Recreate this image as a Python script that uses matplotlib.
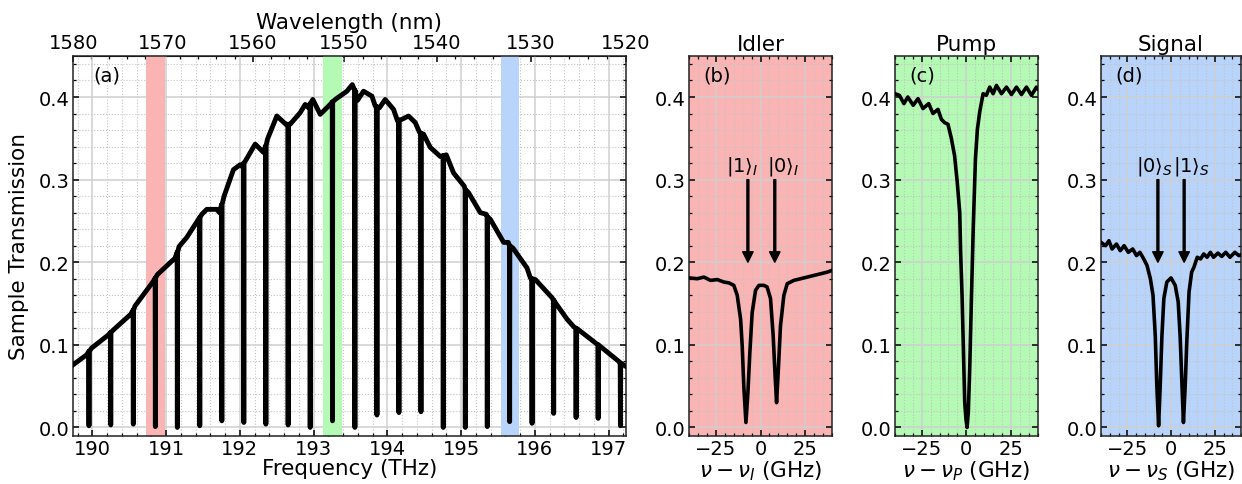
import numpy as np
import matplotlib
matplotlib.use("Agg")
import matplotlib.pyplot as plt
from matplotlib.ticker import MultipleLocator

C_NM_THZ = 299792.458

# ---------------- Panel (a): broadband transmission ----------------
env_freq = [189.742, 189.924, 189.990, 190.217, 190.285, 190.521, 190.579, 190.828,
            190.882, 191.122, 191.176, 191.281, 191.425, 191.484, 191.552, 191.688,
            191.723, 191.787, 191.913, 192.004, 192.027, 192.085, 192.208, 192.320,
            192.375, 192.502, 192.624, 192.682, 192.818, 192.886, 192.931, 192.990,
            193.090, 193.225, 193.293, 193.452, 193.525, 193.596, 193.677, 193.791,
            193.836, 193.894, 193.971, 194.084, 194.138, 194.198, 194.288, 194.379,
            194.437, 194.491, 194.582, 194.718, 194.799, 194.898, 195.043, 195.102,
            195.261, 195.342, 195.396, 195.577, 195.640, 195.704, 195.894, 195.939,
            196.007, 196.233, 196.278, 196.437, 196.526, 196.581, 196.798, 197.137,
            197.232]
env_trans = [0.076, 0.088, 0.096, 0.112, 0.118, 0.137, 0.147, 0.177,
             0.185, 0.205, 0.219, 0.230, 0.250, 0.258, 0.264, 0.264,
             0.260, 0.280, 0.312, 0.318, 0.316, 0.324, 0.343, 0.333,
             0.349, 0.377, 0.367, 0.367, 0.381, 0.391, 0.387, 0.397,
             0.379, 0.391, 0.397, 0.407, 0.415, 0.396, 0.407, 0.401,
             0.389, 0.387, 0.397, 0.385, 0.371, 0.373, 0.377, 0.369,
             0.357, 0.355, 0.339, 0.328, 0.330, 0.308, 0.292, 0.284,
             0.260, 0.258, 0.252, 0.224, 0.224, 0.217, 0.193, 0.181,
             0.179, 0.157, 0.151, 0.131, 0.122, 0.119, 0.104, 0.080,
             0.074]

dip_freq = [189.955, 190.250, 190.556, 190.855, 191.153, 191.457, 191.756, 192.054,
            192.353, 192.655, 192.954, 193.256, 193.560, 193.859, 194.157, 194.456,
            194.758, 195.057, 195.355, 195.658, 195.962, 196.255, 196.559, 196.858,
            197.160]
dip_top = [0.092, 0.115, 0.142, 0.181, 0.212, 0.254, 0.270, 0.320,
           0.341, 0.367, 0.392, 0.394, 0.408, 0.388, 0.372, 0.356,
           0.329, 0.288, 0.255, 0.220, 0.180, 0.154, 0.120, 0.100,
           0.078]
dip_min = [0.002, 0.003, 0.004, 0.001, 0.000, 0.002, 0.008, 0.006,
           0.004, 0.003, 0.000, 0.008, 0.000, 0.015, 0.018, 0.019,
           0.000, 0.000, 0.001, 0.007, 0.005, 0.017, 0.012, 0.011,
           0.002]

band_idler = (190.731, 190.991)
band_pump = (193.134, 193.388)
band_signal = (195.536, 195.790)

wl_ticks = [1580, 1570, 1560, 1550, 1540, 1530, 1520]
freq_ticks = [190, 191, 192, 193, 194, 195, 196, 197]

# ---------------- Panels (b)-(d): zoom on resonances ----------------
idler_det = [-40.0, -35.6, -31.8, -28.1, -24.3, -20.6, -17.8, -15.0, -13.1, -11.2,
             -10.3, -9.4, -8.2, -7.1, -6.0, -4.7, -2.8, -0.9, 1.9, 3.7, 5.6, 7.1,
             8.1, 9.0, 9.9, 11.2, 13.1, 15.0, 18.7, 22.5, 26.2, 30.0, 33.7, 37.5, 40.0]
idler_trans = [0.181, 0.180, 0.182, 0.178, 0.179, 0.176, 0.175, 0.172, 0.160, 0.131,
               0.099, 0.050, 0.006, 0.042, 0.091, 0.139, 0.166, 0.172, 0.172, 0.170,
               0.156, 0.111, 0.066, 0.030, 0.066, 0.123, 0.160, 0.174, 0.178, 0.180,
               0.182, 0.184, 0.186, 0.188, 0.190]

pump_det = [-40.0, -37.5, -35.0, -32.8, -29.8, -27.1, -24.3, -21.1, -18.7, -15.9,
            -14.0, -12.2, -10.3, -8.4, -6.6, -5.1, -3.7, -3.2, -2.4, -1.7, -0.9,
            -0.2, 0.4, 1.1, 1.9, 2.8, 3.9, 5.1, 6.2, 7.5, 9.4, 11.2, 13.1, 15.0,
            16.9, 19.7, 22.5, 25.3, 28.1, 30.9, 33.7, 36.5, 39.3, 40.0]
pump_trans = [0.404, 0.402, 0.392, 0.400, 0.390, 0.398, 0.386, 0.392, 0.380, 0.385,
              0.373, 0.369, 0.367, 0.350, 0.329, 0.297, 0.260, 0.212, 0.160, 0.099,
              0.030, 0.010, 0.000, 0.018, 0.071, 0.152, 0.244, 0.325, 0.361, 0.382,
              0.404, 0.402, 0.412, 0.404, 0.414, 0.404, 0.412, 0.403, 0.412, 0.403,
              0.412, 0.402, 0.412, 0.410]

signal_det = [-40.0, -37.4, -35.5, -33.7, -31.2, -29.0, -26.8, -24.4, -21.9, -19.7,
              -17.8, -15.6, -13.7, -11.8, -10.3, -9.0, -8.1, -7.1, -6.2, -5.2, -4.1,
              -2.4, 0.0, 2.4, 4.1, 5.2, 6.2, 7.1, 8.1, 9.0, 10.3, 11.8, 13.1, 15.0,
              16.9, 18.7, 20.6, 22.5, 24.3, 26.8, 29.0, 31.3, 33.7, 36.5, 38.8, 40.0]
signal_trans = [0.224, 0.220, 0.226, 0.216, 0.222, 0.214, 0.220, 0.212, 0.216, 0.208,
                0.212, 0.204, 0.196, 0.180, 0.160, 0.111, 0.050, 0.002, 0.050, 0.111,
                0.156, 0.176, 0.181, 0.172, 0.152, 0.111, 0.055, 0.006, 0.050, 0.103,
                0.164, 0.188, 0.194, 0.206, 0.204, 0.210, 0.206, 0.212, 0.206, 0.211,
                0.207, 0.212, 0.206, 0.212, 0.208, 0.209]

idler_arrows = [-7.1, 8.0]
idler_labels = [r'$|1\rangle_I$', r'$|0\rangle_I$']
idler_label_x = [-10.4, 12.5]
signal_arrows = [-7.5, 7.5]
signal_labels = [r'$|0\rangle_S$', r'$|1\rangle_S$']
signal_label_x = [-9.4, 11.7]

col_red = '#fab4b4'
col_green = '#b4f9b4'
col_blue = '#b8d4fa'

TICK_FS = 14
LAB_FS = 15.5

plt.rcParams['font.family'] = ['DejaVu Sans']
plt.rcParams['mathtext.fontset'] = 'dejavusans'

fig = plt.figure(figsize=(12.42, 4.85), dpi=100)

bottom, height = 0.0996, 0.7835
axa = fig.add_axes([0.0590, bottom, 0.4448, height])
axb = fig.add_axes([0.5550, bottom, 0.1147, height])
axc = fig.add_axes([0.7206, bottom, 0.1149, height])
axd = fig.add_axes([0.8865, bottom, 0.1127, height])


def style(ax, top=True):
    ax.tick_params(which='both', direction='in', top=top, right=True,
                   labelsize=TICK_FS, pad=2.5)
    ax.tick_params(which='major', length=4.5, width=1.1)
    ax.tick_params(which='minor', length=2.5, width=0.9)
    ax.grid(which='major', color='#cfcfcf', lw=1.1, ls='-')
    ax.grid(which='minor', color='#c4c4c4', lw=0.8, ls=':')
    ax.set_axisbelow(True)
    for sp in ax.spines.values():
        sp.set_linewidth(1.1)
        sp.set_color('#222222')
    ax.set_ylim(-0.01, 0.45)
    ax.yaxis.set_major_locator(MultipleLocator(0.1))
    ax.yaxis.set_minor_locator(MultipleLocator(0.02))


# ---- panel (a)
pts = list(zip(env_freq, env_trans))
delta = 0.003
for f, t, m in zip(dip_freq, dip_top, dip_min):
    pts += [(f - delta, t), (f, m), (f + delta, t)]
pts.sort()
fa = [p[0] for p in pts]
ta = [p[1] for p in pts]

style(axa, top=False)
axa.set_xlim(C_NM_THZ / 1580, C_NM_THZ / 1520)
axa.set_xticks(freq_ticks)
axa.xaxis.set_minor_locator(MultipleLocator(0.2))
for lo, hi, col in [(band_idler[0], band_idler[1], col_red),
                    (band_pump[0], band_pump[1], col_green),
                    (band_signal[0], band_signal[1], col_blue)]:
    axa.axvspan(lo, hi, color=col, lw=0, zorder=1)
axa.plot(fa, ta, color='k', lw=3.5, zorder=3)
axa.set_xlabel('Frequency (THz)', fontsize=LAB_FS, labelpad=0)
axa.set_ylabel('Sample Transmission', fontsize=LAB_FS, labelpad=7)
axa.text(0.036, 0.975, '(a)', transform=axa.transAxes, ha='left', va='top',
         fontsize=14)

sec = axa.secondary_xaxis('top', functions=(lambda f: C_NM_THZ / f,
                                            lambda w: C_NM_THZ / w))
sec.set_xticks(wl_ticks)
sec.xaxis.set_minor_locator(MultipleLocator(2))
sec.tick_params(which='both', direction='in', labelsize=TICK_FS, pad=3)
sec.tick_params(which='major', length=4.5, width=1.1)
sec.tick_params(which='minor', length=2.5, width=0.9)
sec.set_xlabel('Wavelength (nm)', fontsize=LAB_FS, labelpad=3)

# ---- panels (b)-(d)
specs = [
    (axb, idler_det, idler_trans, col_red, 'Idler', '(b)', r'$\nu - \nu_I$ (GHz)'),
    (axc, pump_det, pump_trans, col_green, 'Pump', '(c)', r'$\nu - \nu_P$ (GHz)'),
    (axd, signal_det, signal_trans, col_blue, 'Signal', '(d)', r'$\nu - \nu_S$ (GHz)'),
]
for ax, x, y, col, title, letter, xlab in specs:
    style(ax)
    ax.set_facecolor(col)
    ax.set_xlim(-40, 40)
    ax.xaxis.set_major_locator(MultipleLocator(25))
    ax.xaxis.set_minor_locator(MultipleLocator(5))
    ax.plot(x, y, color='k', lw=2.6, zorder=3)
    ax.set_title(title, fontsize=LAB_FS, pad=4)
    ax.set_xlabel(xlab, fontsize=LAB_FS, labelpad=0)
    ax.text(0.1, 0.975, letter, transform=ax.transAxes, ha='left', va='top',
            fontsize=14)

for ax, arrows, labels, lx in [(axb, idler_arrows, idler_labels, idler_label_x),
                               (axd, signal_arrows, signal_labels, signal_label_x)]:
    for xa in arrows:
        ax.annotate('', xy=(xa, 0.2), xytext=(xa, 0.3),
                    arrowprops=dict(facecolor='k', edgecolor='k', width=1.4,
                                    headwidth=7.5, headlength=7.5, shrink=0.0))
    for xt, lab in zip(lx, labels):
        ax.text(xt, 0.303, lab, ha='center', va='bottom', fontsize=14)

fig.savefig('out.png', dpi=100)
